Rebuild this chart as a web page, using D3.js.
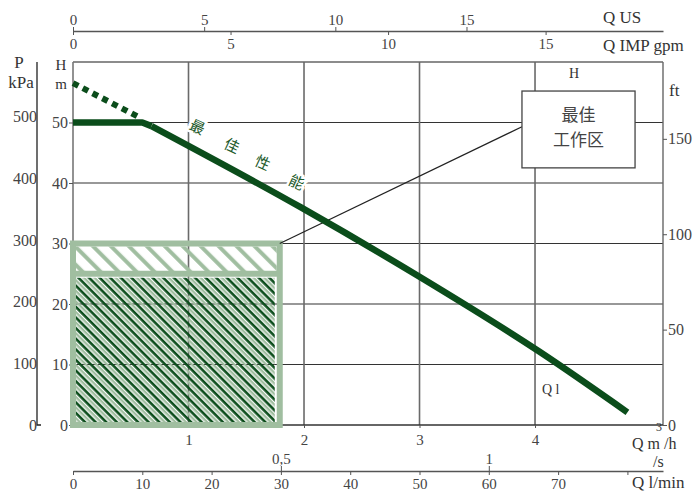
<!DOCTYPE html>
<html><head><meta charset="utf-8">
<script src="https://cdn.jsdelivr.net/npm/d3@7"></script>
<style>body{margin:0;background:#fff}svg{display:block}</style>
</head><body><svg id="c" width="693" height="492"></svg>
<script>
// ---- data ----
const curveQ = [0, 0.6, 0.68, 1.97, 3.0, 4.04, 4.8];
const curveH = [50, 50, 49.4, 36.0, 24.5, 12.1, 2.1];
const dotQ = [0, 0.56];
const dotH = [56.5, 51.0];
const xTicks = [1, 2, 3, 4];
const hTicks = [0, 10, 20, 30, 40, 50];
const pTicks = [0, 100, 200, 300, 400, 500];
const ftTicks = [0, 50, 100, 150];
const usTicks = [0, 5, 10, 15];
const impTicks = [0, 5, 10, 15];
const lminTicks = [0, 10, 20, 30, 40, 50, 60, 70, 80];
const lsTicks = [0.5, 1];
const lsLabels = ["0,5", "1"];
const zoneQ = [0, 1.79];
const zoneH = [0, 25, 30];
const perfChars = ["最", "佳", "性", "能"];
const perfQ = [1.08, 1.38, 1.645, 1.94];
const perfH = [49.4, 46.3, 43.5, 40.3];
const boxLines = ["最佳", "工作区"];
const boxQ = [3.887, 4.866];
const boxH = [42.5, 55.2];
const linkQ = [1.79, 3.887];
const linkH = [30, 49.3];

// ---- setup ----
const svg = d3.select("#c");
const QMAX = 5.108;
const L = 73, R = 663, T = 62, B = 425;
const x = d3.scaleLinear().domain([0, QMAX]).range([L, R]);
const y = d3.scaleLinear().domain([0, 60]).range([B, T]);
const yP = d3.scaleLinear().domain([0, 600]).range([B, y(600 * 0.10197)]);
const yFt = d3.scaleLinear().domain([0, 150]).range([B, y(47.3)]);
const xUS = d3.scaleLinear().domain([0, QMAX * 4.403]).range([L, R]);
const xIMP = d3.scaleLinear().domain([0, QMAX * 3.666]).range([L, R]);
const xLmin = d3.scaleLinear().domain([0, QMAX * 16.667]).range([L, R]);
const xLs = d3.scaleLinear().domain([0, QMAX * 16.667 / 60]).range([L, R]);

const SERIF = "'Liberation Serif', 'DejaVu Serif', serif";
const CJK = "'Noto Sans CJK SC', sans-serif";
const DARK = "#0b4d1b", LIGHT = "#a0bea0", TXT = "#444";

// patterns
const defs = svg.append("defs");
const pl = defs.append("pattern").attr("id", "hatchL").attr("patternUnits", "userSpaceOnUse")
  .attr("width", 12.7).attr("height", 12.7).attr("patternTransform", "rotate(-45)");
pl.append("line").attr("x1", 6).attr("x2", 6).attr("y1", -1).attr("y2", 14)
  .attr("stroke", LIGHT).attr("stroke-width", 4);
const pd = defs.append("pattern").attr("id", "hatchD").attr("patternUnits", "userSpaceOnUse")
  .attr("width", 7.5).attr("height", 7.5).attr("patternTransform", "rotate(-45)");
pd.append("line").attr("x1", 1.6).attr("x2", 1.6).attr("y1", -1).attr("y2", 9)
  .attr("stroke", DARK).attr("stroke-width", 2.7);
pd.append("line").attr("x1", 5.4).attr("x2", 5.4).attr("y1", -1).attr("y2", 9)
  .attr("stroke", LIGHT).attr("stroke-width", 2.4);

// ---- grid ----
const g = svg.append("g");
g.selectAll(".hg").data(hTicks.filter(d => d > 0)).join("line")
  .attr("x1", L).attr("x2", R).attr("y1", d => y(d)).attr("y2", d => y(d))
  .attr("stroke", "#333").attr("stroke-width", 1.2);
g.selectAll(".vg").data(xTicks).join("line")
  .attr("x1", d => x(d)).attr("x2", d => x(d)).attr("y1", T).attr("y2", B)
  .attr("stroke", "#6a6a6a").attr("stroke-width", 1.6);
// frame
g.append("line").attr("x1", L).attr("x2", R).attr("y1", T).attr("y2", T).attr("stroke", "#666").attr("stroke-width", 1.3);
g.append("line").attr("x1", L).attr("x2", L).attr("y1", T).attr("y2", B).attr("stroke", "#777").attr("stroke-width", 1.6);
g.append("line").attr("x1", R).attr("x2", R).attr("y1", T).attr("y2", B).attr("stroke", "#666").attr("stroke-width", 1.4);
g.append("line").attr("x1", L).attr("x2", R).attr("y1", B).attr("y2", B).attr("stroke", "#333").attr("stroke-width", 1.3);

function styleAxis(sel, size) {
  sel.selectAll("text").attr("font-family", SERIF).attr("font-size", size || 15).attr("fill", TXT);
  sel.selectAll("line").attr("stroke", "#555");
  sel.selectAll("path").attr("stroke", "#555");
}

// bottom m3/h axis
const ab = svg.append("g").attr("transform", `translate(0,${B})`)
  .call(d3.axisBottom(x).tickValues(xTicks).tickFormat(d3.format("d")).tickSize(3).tickSizeOuter(0).tickPadding(6));
ab.select(".domain").remove();
styleAxis(ab);

// H axis (left, at x=73)
const ah = svg.append("g").attr("transform", `translate(${L},0)`)
  .call(d3.axisLeft(y).tickValues(hTicks).tickSize(4).tickPadding(1));
ah.select(".domain").remove();
styleAxis(ah, 16);

// P axis
const PX = 37;
svg.append("path").attr("d", `M${PX},${T}V${B}H${PX + 4}`).attr("fill", "none").attr("stroke", "#222").attr("stroke-width", 1.3);
const ap = svg.append("g").attr("transform", `translate(${PX},0)`)
  .call(d3.axisLeft(yP).tickValues(pTicks).tickSize(0).tickPadding(0));
ap.select(".domain").remove();
styleAxis(ap, 16);

// ft axis
const af = svg.append("g").attr("transform", `translate(${R},0)`)
  .call(d3.axisRight(yFt).tickValues(ftTicks).tickSize(4).tickPadding(1));
af.select(".domain").remove();
styleAxis(af, 16);

// top axes
const TY = 31;
const aus = svg.append("g").attr("transform", `translate(0,${TY})`)
  .call(d3.axisTop(xUS).tickValues(usTicks).tickSize(4).tickSizeOuter(0).tickPadding(2));
styleAxis(aus);
aus.select(".domain").attr("stroke-width", 1.4);
const aimp = svg.append("g").attr("transform", `translate(0,${TY})`)
  .call(d3.axisBottom(xIMP).tickValues(impTicks).tickSize(4).tickSizeOuter(0).tickPadding(3));
aimp.select(".domain").remove();
styleAxis(aimp);

// l/min and l/s axes
const LY = 471;
const alm = svg.append("g").attr("transform", `translate(0,${LY})`)
  .call(d3.axisBottom(xLmin).tickValues(lminTicks).tickSize(4).tickSizeOuter(0).tickPadding(3)
    .tickFormat(d => d === 80 ? "" : d));
styleAxis(alm);
alm.select(".domain").attr("stroke-width", 1.4);
const als = svg.append("g").attr("transform", `translate(0,${LY})`)
  .call(d3.axisTop(xLs).tickValues(lsTicks).tickSize(5).tickSizeOuter(0).tickPadding(2)
    .tickFormat((d, i) => lsLabels[i]));
als.select(".domain").remove();
styleAxis(als);

// axis titles
function label(txt, px, py, anchor, size, fam) {
  return svg.append("text").attr("x", px).attr("y", py).attr("text-anchor", anchor || "start")
    .attr("font-family", fam || SERIF).attr("font-size", size || 17).attr("fill", "#333").text(txt);
}
label("Q US", 603, 23, "start", 17);
label("Q IMP gpm", 603, 51, "start", 17);
label("P", 19, 68, "middle", 17);
label("kPa", 21, 88, "middle", 17);
label("H", 61, 70, "middle", 15);
label("m", 61, 89, "middle", 15);
label("ft", 669, 96, "start", 17);
label("H", 574, 78, "middle", 14);
label("Q m /h", 632, 449, "start", 16);
label("3", 656, 431, "start", 12);
label("/s", 653, 467, "start", 16);
label("Q l/min", 632, 488, "start", 17);
label("Q l", x(4.06), y(5.2), "start", 14);

// ---- zone ----
const zx0 = x(zoneQ[0]), zx1 = x(zoneQ[1]);
svg.append("rect").attr("x", zx0 + 3).attr("y", y(zoneH[1]) + 4)
  .attr("width", zx1 - zx0 - 8).attr("height", y(zoneH[0]) - y(zoneH[1]) - 7)
  .attr("fill", "url(#hatchD)");
svg.append("rect").attr("x", zx0 + 3).attr("y", y(zoneH[2]) + 3)
  .attr("width", zx1 - zx0 - 6).attr("height", y(zoneH[1]) - y(zoneH[2]) - 4)
  .attr("fill", "url(#hatchL)");
svg.append("rect").attr("x", zx0).attr("y", y(zoneH[2]))
  .attr("width", zx1 - zx0).attr("height", y(zoneH[0]) - y(zoneH[2]))
  .attr("fill", "none").attr("stroke", LIGHT).attr("stroke-width", 6);
svg.append("line").attr("x1", zx0).attr("x2", zx1).attr("y1", y(zoneH[1])).attr("y2", y(zoneH[1]))
  .attr("stroke", LIGHT).attr("stroke-width", 6);

// link line and box
svg.append("line").attr("x1", x(linkQ[0])).attr("y1", y(linkH[0])).attr("x2", x(linkQ[1])).attr("y2", y(linkH[1]))
  .attr("stroke", "#222").attr("stroke-width", 1.2);
svg.append("rect").attr("x", x(boxQ[0])).attr("y", y(boxH[1]))
  .attr("width", x(boxQ[1]) - x(boxQ[0])).attr("height", y(boxH[0]) - y(boxH[1]))
  .attr("fill", "#fff").attr("stroke", "#444").attr("stroke-width", 1.3);
const bcx = (x(boxQ[0]) + x(boxQ[1])) / 2;
boxLines.forEach((t, i) => {
  svg.append("text").attr("x", bcx).attr("y", y(boxH[1]) + 30 + i * 25).attr("text-anchor", "middle")
    .attr("font-family", CJK).attr("font-size", 17).attr("fill", "#444").text(t);
});

// ---- curve ----
const pts = curveQ.map((q, i) => [q, curveH[i]]);
const lineLin = d3.line().x(d => x(d[0])).y(d => y(d[1]));
const lineSmooth = d3.line().x(d => x(d[0])).y(d => y(d[1])).curve(d3.curveMonotoneX);
svg.append("path").datum(dotQ.map((q, i) => [q, dotH[i]])).attr("d", lineLin)
  .attr("fill", "none").attr("stroke", DARK).attr("stroke-width", 6).attr("stroke-dasharray", "6,5");
svg.append("path").datum(pts.slice(0, 3)).attr("d", lineLin)
  .attr("fill", "none").attr("stroke", DARK).attr("stroke-width", 6.5).attr("stroke-linejoin", "round");
svg.append("path").datum(pts.slice(2)).attr("d", lineSmooth)
  .attr("fill", "none").attr("stroke", DARK).attr("stroke-width", 6.5).attr("stroke-linejoin", "round");

// performance label
perfChars.forEach((c, i) => {
  const px = x(perfQ[i]), py = y(perfH[i]);
  svg.append("text").attr("x", px).attr("y", py).attr("text-anchor", "middle").attr("dominant-baseline", "central")
    .attr("transform", `rotate(25,${px},${py})`)
    .attr("font-family", CJK).attr("font-size", 15).attr("fill", "#1c5a2a")
    .attr("stroke", "#fff").attr("stroke-width", 5).attr("paint-order", "stroke").text(c);
});
</script></body></html>
